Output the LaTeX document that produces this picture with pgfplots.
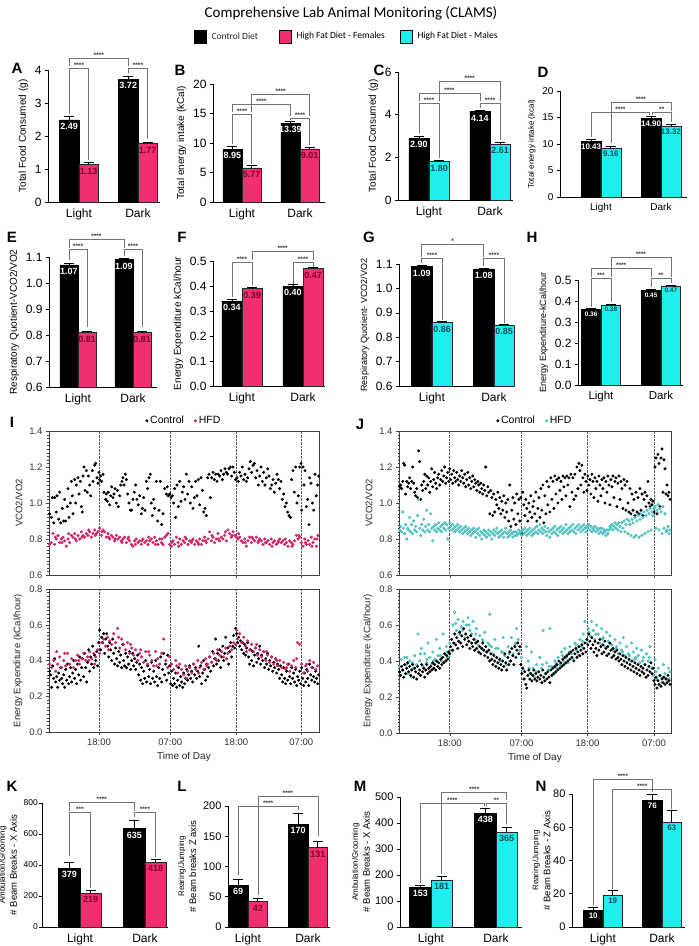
\documentclass[border=0pt]{standalone}
\usepackage{pgfplots}
\pgfplotsset{compat=1.18}
\usepackage{fontspec}
\setmainfont{Liberation Sans}
\newfontfamily\cali{Carlito}
\definecolor{hpink}{RGB}{240,48,110}
\definecolor{hcyan}{RGB}{30,238,238}
\definecolor{pinktxt}{RGB}{125,0,45}
\definecolor{cyantxt}{RGB}{0,80,85}
\definecolor{spink}{RGB}{210,35,105}
\definecolor{scyan}{RGB}{80,210,210}
\definecolor{brk}{RGB}{115,115,115}
\newcommand{\brk}[6]{%
  \draw[brk, line width=0.6pt] (axis cs:#1,#2) -- (axis cs:#1,#5) -- node[anchor=south, inner sep=0.6pt, font=\bfseries\fontsize{6.5}{6.5}\selectfont, text=black!80] {#6} (axis cs:#3,#5) -- (axis cs:#3,#4);}
\pgfplotsset{
  vlab/.style={nodes near coords={\pgfmathprintnumber[fixed,fixed zerofill,precision=#1]{\pgfplotspointmeta}}},
  barax/.style={scale only axis, anchor=south west, clip mode=individual,
    axis x line*=bottom, axis y line*=left,
    axis line style={line width=0.8pt, black},
    xtick={0,1}, xticklabels={Light,Dark}, x tick style={draw=none},
    ytick style={black, line width=0.6pt}, tick align=outside, major tick length=3pt,
    ymin=0, bar width=0.33,
    /pgf/number format/assume math mode=true,
    xticklabel style={font=\fontsize{12}{12}\selectfont},
    yticklabel style={font=\fontsize{12}{12}\selectfont},
    ylabel style={font=\fontsize{10}{10}\selectfont},
    every node near coord/.append style={font=\bfseries\fontsize{9}{9}\selectfont, inner sep=1pt, yshift=-11pt},
  },
  ylab2/.style={every axis y label/.style={at={(axis description cs:#1,0.5)}, rotate=90, anchor=center, align=center}},
  ctrlbar/.style={ybar, bar shift=0pt, fill=black, draw=black, line width=0.6pt,
    every node near coord/.append style={text=white},
    error bars/.cd, y dir=plus, y explicit, error bar style={line width=0.8pt, black},
    error mark options={rotate=90, mark size=5pt, line width=0.8pt, black}},
  pinkbar/.style={ybar, bar shift=0pt, fill=hpink, draw=black!85, line width=0.6pt,
    every node near coord/.append style={text=pinktxt},
    error bars/.cd, y dir=plus, y explicit, error bar style={line width=0.8pt, black},
    error mark options={rotate=90, mark size=5pt, line width=0.8pt, black}},
  cyanbar/.style={ybar, bar shift=0pt, fill=hcyan, draw=black!85, line width=0.6pt,
    every node near coord/.append style={text=cyantxt},
    error bars/.cd, y dir=plus, y explicit, error bar style={line width=0.8pt, black},
    error mark options={rotate=90, mark size=5pt, line width=0.8pt, black}},
  scat/.style={scale only axis, anchor=south west,
    axis line style={black!75, line width=0.7pt},
    /pgf/number format/assume math mode=true,
    tick label style={font=\fontsize{9.5}{10}\selectfont, text=black!80},
    yticklabel style={/pgf/number format/fixed, /pgf/number format/fixed zerofill, /pgf/number format/precision=1},
    ylabel style={font=\fontsize{9.5}{10}\selectfont, text=black!85},
    xlabel style={font=\fontsize{10}{10}\selectfont, text=black!85},
    ytick pos=left, xtick pos=bottom, tick align=outside, major tick length=3pt, minor tick length=1.5pt,
    minor y tick num=9, tick style={black!75},
    xmajorgrids, grid style={densely dotted, black!65, line width=0.5pt},
  },
  ctrlpt/.style={only marks, mark=*, mark size=1.3pt, color=black},
  pinkpt/.style={only marks, mark=*, mark size=1.35pt, color=spink},
  cyanpt/.style={only marks, mark=*, mark size=1.45pt, color=scyan, mark options={draw=scyan!80!black, line width=0.2pt}},
  scatleg/.style={legend style={at={(0.5,1.01)}, anchor=south, draw=none, fill=none, legend columns=2, font=\fontsize{10.5}{10.5}\selectfont, /tikz/every even column/.append style={column sep=8pt}}},
}
\begin{document}
\begin{tikzpicture}
\path[use as bounding box] (0pt,0pt) rectangle (699pt,-946pt);
% title and legend
\node[font=\cali\fontsize{15}{15}\selectfont] at (351pt,-13pt) {Comprehensive Lab Animal Monitoring (CLAMS)};
\draw[fill=black, draw=black, line width=0.6pt] (194pt,-30pt) rectangle (206pt,-43pt);
\node[anchor=west, font=\cali\fontsize{9.5}{10}\selectfont, text=black!85] at (208pt,-36.5pt) {Control Diet};
\draw[fill=hpink, draw=black, line width=0.6pt] (279pt,-30pt) rectangle (291pt,-43pt);
\node[anchor=west, font=\cali\fontsize{9.5}{10}\selectfont] at (293pt,-36.5pt) {High Fat Diet - Females};
\draw[fill=hcyan, draw=black, line width=0.6pt] (400pt,-30pt) rectangle (412pt,-43pt);
\node[anchor=west, font=\cali\fontsize{9.5}{10}\selectfont] at (414pt,-36.5pt) {High Fat Diet - Males};

% ---------------- A
\begin{axis}[barax, at={(48pt,-202pt)}, width=112pt, height=132pt, xmin=-0.525, xmax=1.373, ymax=4, ytick={0,1,2,3,4}, ylabel={Total Food Consumed (g)}, vlab=2]
\addplot[ctrlbar] coordinates {(-0.165,2.49) +- (0,0.1) (0.835,3.72) +- (0,0.08)};
\addplot[pinkbar] coordinates {(0.165,1.13) +- (0,0.06) (1.165,1.77) +- (0,0.05)};
\brk{-0.165}{2.68}{0.165}{1.27}{4.05}{****}
\brk{0.835}{3.9}{1.165}{1.92}{4.05}{****}
\brk{-0.165}{4.12}{0.835}{4.12}{4.36}{****}
\end{axis}
% ---------------- B
\begin{axis}[barax, at={(213pt,-202pt)}, width=112pt, height=118pt, xmin=-0.5, xmax=1.431, ymax=20, ytick={0,5,10,15,20}, ylabel={Total energy intake (kCal)}, vlab=2]
\addplot[ctrlbar] coordinates {(-0.165,8.95) +- (0,0.4) (0.835,13.39) +- (0,0.35)};
\addplot[pinkbar] coordinates {(0.165,5.77) +- (0,0.35) (1.165,9.01) +- (0,0.3)};
\brk{-0.165}{9.9}{0.165}{6.5}{14.9}{****}
\brk{0.835}{13.9}{1.165}{9.6}{14.2}{****}
\brk{-0.165}{15.2}{0.835}{14.6}{16.5}{****}
\brk{0.165}{15.2}{1.165}{14.6}{18.2}{****}
\end{axis}
% ---------------- C
\begin{axis}[barax, at={(398pt,-200pt)}, width=115pt, height=128pt, xmin=-0.508, xmax=1.377, ymax=6, ytick={0,2,4,6}, ylabel={Total Food Consumed (g)}, vlab=2]
\addplot[ctrlbar] coordinates {(-0.165,2.90) +- (0,0.08) (0.835,4.14) +- (0,0.08)};
\addplot[cyanbar] coordinates {(0.165,1.80) +- (0,0.07) (1.165,2.61) +- (0,0.07)};
\brk{-0.165}{3.12}{0.165}{1.95}{4.55}{****}
\brk{0.835}{4.3}{1.165}{2.8}{4.55}{****}
\brk{-0.165}{4.62}{0.835}{4.62}{5.02}{****}
\brk{0.165}{4.62}{1.165}{4.62}{5.56}{****}
\end{axis}
% ---------------- D
\begin{axis}[barax, at={(560pt,-197pt)}, width=127pt, height=106pt, xmin=-0.683, xmax=1.433, ymax=20, ytick={0,5,10,15,20}, ylabel={Total energy intake (kcal)}, vlab=2,
  xticklabel style={font=\fontsize{10}{10}\selectfont}, yticklabel style={font=\fontsize{10}{10}\selectfont}, ylabel style={font=\fontsize{8}{8}\selectfont},
  every node near coord/.append style={font=\bfseries\fontsize{8}{8}\selectfont, yshift=1.5pt}]
\addplot[ctrlbar] coordinates {(-0.165,10.43) +- (0,0.4) (0.835,14.90) +- (0,0.35)};
\addplot[cyanbar] coordinates {(0.165,9.16) +- (0,0.4) (1.165,13.32) +- (0,0.35)};
\brk{-0.165}{11.4}{0.81}{15.4}{16.0}{****}
\brk{0.86}{15.4}{1.165}{14.2}{16.0}{**}
\brk{0.165}{10.1}{1.165}{16.3}{17.85}{****}
\end{axis}
% ---------------- E
\begin{axis}[barax, at={(49pt,-387pt)}, width=108pt, height=130pt, xmin=-0.527, xmax=1.436, ymin=0.6, ymax=1.1, ytick={0.6,0.7,0.8,0.9,1.0,1.1}, ylabel={Respiratory Quotient-VCO2/VO2}, vlab=2,
  yticklabel style={/pgf/number format/fixed, /pgf/number format/fixed zerofill, /pgf/number format/precision=1}]
\addplot[ctrlbar] coordinates {(-0.165,1.07) +- (0,0.005) (0.835,1.09) +- (0,0.005)};
\addplot[pinkbar] coordinates {(0.165,0.81) +- (0,0.003) (1.165,0.81) +- (0,0.003)};
\brk{-0.165}{1.087}{0.165}{0.832}{1.128}{****}
\brk{0.835}{1.103}{1.165}{0.83}{1.128}{****}
\brk{-0.165}{1.135}{0.835}{1.135}{1.169}{****}
\end{axis}
% ---------------- F
\begin{axis}[barax, at={(213pt,-386pt)}, width=112pt, height=125pt, xmin=-0.475, xmax=1.36, ymax=0.5, ytick={0,0.1,0.2,0.3,0.4,0.5}, ylabel={Energy Expenditure kCal/hour}, vlab=2,
  yticklabel style={/pgf/number format/fixed, /pgf/number format/fixed zerofill, /pgf/number format/precision=1}]
\addplot[ctrlbar] coordinates {(-0.165,0.34) +- (0,0.005) (0.835,0.40) +- (0,0.005)};
\addplot[pinkbar] coordinates {(0.165,0.39) +- (0,0.005) (1.165,0.47) +- (0,0.005)};
\brk{-0.165}{0.356}{0.165}{0.403}{0.496}{****}
\brk{0.835}{0.41}{1.165}{0.478}{0.496}{****}
\brk{0.165}{0.503}{1.165}{0.503}{0.54}{****}
\end{axis}
% ---------------- G
\begin{axis}[barax, at={(399pt,-386pt)}, width=116pt, height=122pt, xmin=-0.532, xmax=1.339, ymin=0.6, ymax=1.1, ytick={0.6,0.7,0.8,0.9,1.0,1.1}, ylabel={Respiratory Quotient- VCO2/VO2}, vlab=2,
  yticklabel style={/pgf/number format/fixed, /pgf/number format/fixed zerofill, /pgf/number format/precision=1}, ylabel style={font=\fontsize{9}{9}\selectfont}]
\addplot[ctrlbar] coordinates {(-0.165,1.09) +- (0,0.005) (0.835,1.08) +- (0,0.004)};
\addplot[cyanbar] coordinates {(0.165,0.86) +- (0,0.004) (1.165,0.85) +- (0,0.003)};
\brk{-0.165}{1.104}{0.165}{0.87}{1.122}{****}
\brk{0.835}{1.092}{1.165}{0.858}{1.122}{****}
\brk{-0.165}{1.13}{0.835}{1.13}{1.18}{*}
\end{axis}
% ---------------- H
\begin{axis}[barax, at={(578pt,-385pt)}, width=105pt, height=105pt, xmin=-0.383, xmax=1.367, ymax=0.5, ytick={0,0.1,0.2,0.3,0.4,0.5}, ylabel={Energy Expenditure-kCal/hour}, vlab=2,
  yticklabel style={/pgf/number format/fixed, /pgf/number format/fixed zerofill, /pgf/number format/precision=1},
  xticklabel style={font=\fontsize{11.5}{11.5}\selectfont}, ylabel style={font=\fontsize{9}{9}\selectfont},
  every node near coord/.append style={font=\bfseries\fontsize{6.5}{6.5}\selectfont, yshift=3pt}]
\addplot[ctrlbar] coordinates {(-0.165,0.36) +- (0,0.005) (0.835,0.45) +- (0,0.005)};
\addplot[cyanbar] coordinates {(0.165,0.38) +- (0,0.005) (1.165,0.47) +- (0,0.005)};
\brk{-0.165}{0.373}{0.165}{0.397}{0.508}{***}
\brk{0.835}{0.465}{1.165}{0.485}{0.508}{**}
\brk{-0.165}{0.515}{0.835}{0.515}{0.556}{****}
\brk{0.165}{0.515}{1.165}{0.515}{0.608}{****}
\end{axis}

% ---------------- I upper
\begin{axis}[scat, scatleg, at={(49pt,-575pt)}, width=270pt, height=144pt, xmin=148, xmax=958, ymin=0.6, ymax=1.4,
  ytick={0.6,0.8,1.0,1.2,1.4}, xtick={298,512,710,905}, xticklabels={}, ylabel={VCO2/VO2}]
\addplot[ctrlpt] coordinates {(150,0.94)(155,0.92)(158,1.03)(162,0.89)(165,1.03)(170,0.95)(172,1.04)(177,0.91)(180,1.06)(183,0.89)(188,0.97)(192,0.9)(195,1.02)(198,0.9)(203,0.98)(205,1.08)(208,0.92)(212,1.0)(215,1.12)(218,1.04)(220,0.94)(225,1.13)(228,1.0)(230,1.1)(235,1.14)(238,1.05)(242,1.12)(245,0.98)(248,0.95)(250,1.15)(253,1.2)(256,1.07)(260,1.18)(263,1.06)(266,1.15)(270,1.1)(273,1.04)(278,1.18)(280,1.12)(285,1.21)(288,1.22)(292,1.14)(295,1.11)(298,1.17)
(300,1.13)(303,1.15)(306,1.12)(310,1.16)(313,1.06)(318,1.02)(320,1.05)(323,1.01)(326,1.06)(330,0.99)(333,1.04)(336,1.09)(340,1.03)(343,1.05)(346,1.08)(350,1.0)(353,1.07)(356,0.98)(360,1.04)(363,1.1)(367,1.12)(370,1.14)(373,1.1)(377,1.16)(380,1.13)(384,1.05)(388,1.0)(392,0.96)(396,0.96)(400,1.02)(404,1.06)(408,1.1)(412,1.02)(416,0.99)(420,1.04)(425,0.94)(428,0.97)(432,1.03)(436,0.96)(440,1.12)(444,1.08)(448,1.14)(452,1.16)(455,1.0)(458,0.93)(462,1.02)(465,0.97)(470,1.12)(474,0.9)(478,0.96)(482,1.12)(486,0.88)(490,0.94)(495,1.08)(500,1.05)(503,1.09)(506,1.04)(510,1.05)
(514,1.03)(518,1.04)(522,1.0)(525,1.08)(528,0.92)(532,1.1)(536,0.98)(540,1.12)(544,1.01)(548,1.06)(552,1.09)(556,1.02)(560,1.16)(564,1.05)(568,1.12)(572,1.0)(576,1.09)(580,0.97)(584,1.03)(588,1.12)(592,1.04)(596,1.13)(600,0.99)(604,1.14)(608,1.07)(612,0.95)(616,0.97)(620,0.93)(624,1.14)(628,1.16)(632,1.03)(636,1.14)(640,1.17)(644,1.13)(648,1.16)(652,1.12)(656,1.16)(660,1.15)(664,1.18)(668,1.13)(672,1.16)(676,1.19)(680,1.17)(684,1.16)(688,1.19)(692,1.2)(696,1.15)(700,1.2)(704,1.17)(708,1.13)
(712,1.14)(716,1.12)(720,1.17)(724,1.15)(728,1.2)(732,1.13)(736,1.16)(740,1.12)(744,1.14)(748,1.19)(752,1.23)(756,1.17)(760,1.21)(764,1.22)(768,1.14)(772,1.18)(776,1.1)(780,1.15)(784,1.2)(788,1.12)(792,1.17)(796,1.1)(800,1.14)(804,1.19)(808,1.15)(812,1.08)(816,1.1)(820,1.13)(824,1.06)(828,1.11)(832,1.16)(836,1.13)(840,1.08)(844,1.12)(848,1.02)(852,1.05)(856,0.98)(860,1.0)(864,0.95)(868,0.93)(872,0.92)(876,1.13)(880,1.18)(884,1.06)(888,1.2)(892,1.0)(896,1.04)(900,1.2)(904,1.22)
(906,0.96)(910,1.2)(913,1.1)(916,1.18)(920,0.98)(924,1.02)(928,0.88)(930,1.14)(934,1.11)(938,1.0)(942,0.96)(946,1.16)(950,1.04)(954,1.1)(957,1.15)};
\addplot[pinkpt] coordinates {(150,.77)(155,.78)(160,.83)(165,.77)(170,.80)(175,.82)(180,.78)(185,.80)(190,.81)(195,.79)(200,.76)(205,.80)(210,.78)(215,.82)(220,.81)(225,.83)(230,.79)(235,.82)(240,.80)(245,.84)(250,.82)(255,.81)(260,.83)(265,.82)(270,.84)(275,.81)(280,.83)(285,.85)(290,.83)(295,.84)(300,.86)(305,.82)(310,.85)(315,.84)(320,.81)(325,.83)(330,.80)(335,.82)(340,.81)(345,.79)(350,.82)(355,.80)(360,.81)(365,.79)(370,.80)(375,.81)(380,.78)(385,.80)(390,.79)(395,.77)(400,.76)(405,.79)(410,.80)(415,.78)(420,.79)(425,.77)(430,.80)(435,.78)(440,.79)(445,.77)(450,.79)(455,.80)(460,.78)(465,.81)(470,.79)(475,.77)(480,.80)(485,.78)(490,.77)(495,.81)(500,.82)(505,.83)(510,.77)
(515,.76)(520,.79)(525,.77)(530,.81)(535,.78)(540,.80)(545,.77)(550,.79)(555,.78)(560,.80)(565,.77)(570,.79)(575,.78)(580,.80)(585,.77)(590,.79)(595,.78)(600,.80)(605,.77)(610,.79)(615,.81)(620,.78)(625,.80)(630,.84)(635,.79)(640,.81)(645,.78)(650,.80)(655,.83)(660,.79)(665,.81)(670,.80)(675,.82)(680,.79)(685,.85)(690,.83)(695,.81)(700,.84)(705,.82)(710,.81)(715,.80)(720,.81)(725,.79)(730,.78)(735,.80)(740,.76)(745,.79)(750,.81)(755,.78)(760,.80)(765,.79)(770,.81)(775,.78)(780,.80)(785,.79)(790,.77)(795,.80)(800,.78)(805,.79)(810,.77)(815,.80)(820,.78)(825,.79)(830,.77)(835,.78)(840,.80)(845,.78)(850,.79)(855,.77)(860,.78)(865,.76)(870,.79)(875,.78)(880,.77)(885,.79)(890,.82)(895,.80)(900,.81)(905,.78)(910,.76)(915,.80)(920,.77)(925,.79)(930,.77)(935,.81)(940,.78)(945,.80)(950,.76)(955,.82)
(167,.81)(187,.78)(207,.83)(227,.80)(247,.81)(267,.85)(287,.82)(307,.84)(327,.81)(347,.80)(367,.78)(387,.81)(407,.77)(427,.79)(447,.81)(467,.77)(487,.80)(517,.78)(537,.76)(557,.81)(577,.79)(597,.77)(617,.79)(637,.82)(657,.80)(677,.84)(697,.82)(717,.83)(737,.78)(757,.81)(777,.79)(797,.78)(817,.76)(837,.79)(857,.80)(877,.76)(897,.82)(917,.78)(937,.76)(952,.80)};
\legend{Control, HFD}
\end{axis}
% ---------------- I lower
\begin{axis}[scat, at={(49pt,-732pt)}, width=270pt, height=143pt, xmin=148, xmax=958, ymin=0, ymax=0.8,
  ytick={0,0.2,0.4,0.6,0.8}, xtick={298,512,710,905}, xticklabels={18:00,07:00,18:00,07:00},
  ylabel={Energy Expenditure (kCal/hour)}, xlabel={Time of Day}]
\addplot[ctrlpt] coordinates {(150,.34)(153,.32)(156,.25)(159,.37)(162,.30)(165,.41)(168,.28)(171,.31)(174,.25)(177,.33)(180,.29)(183,.36)(186,.30)(189,.27)(192,.32)(195,.25)(198,.35)(201,.29)(204,.38)(207,.27)(210,.31)(213,.36)(216,.28)(219,.33)(222,.40)(225,.30)(228,.35)(231,.27)(234,.38)(237,.32)(240,.42)(243,.29)(246,.36)(249,.41)(252,.31)(255,.44)(258,.36)(261,.28)(264,.39)(267,.46)(270,.34)(273,.42)(276,.38)(279,.48)(282,.36)(285,.43)(288,.40)(291,.45)(294,.37)(297,.50)
(300,.57)(303,.46)(306,.53)(309,.50)(312,.55)(315,.44)(318,.52)(321,.55)(324,.48)(327,.42)(330,.50)(333,.46)(336,.40)(339,.52)(342,.44)(345,.38)(348,.47)(351,.41)(354,.37)(357,.45)(360,.39)(363,.43)(366,.36)(369,.49)(372,.40)(375,.37)(378,.44)(381,.36)(384,.42)(387,.38)(390,.45)(393,.35)(396,.40)(399,.44)(402,.37)(405,.41)(408,.35)(411,.39)(414,.43)(417,.32)(420,.38)(423,.29)(426,.36)(429,.27)(432,.34)(435,.30)(438,.40)(441,.28)(444,.37)(447,.31)(450,.35)(453,.27)(456,.39)(459,.30)(462,.34)(465,.28)(468,.40)(471,.31)(474,.26)(477,.36)(480,.30)(483,.42)(486,.28)(489,.35)(492,.44)(495,.32)(498,.38)(501,.29)(504,.43)(507,.33)(510,.37)
(513,.27)(516,.34)(519,.26)(522,.30)(525,.27)(528,.33)(531,.25)(534,.29)(537,.36)(540,.26)(543,.31)(546,.28)(549,.25)(552,.33)(555,.27)(558,.30)(561,.35)(564,.29)(567,.32)(570,.37)(573,.30)(576,.34)(579,.28)(582,.38)(585,.32)(588,.36)(591,.30)(594,.34)(597,.48)(600,.31)(603,.37)(606,.27)(609,.33)(612,.40)(615,.35)(618,.29)(621,.38)(624,.31)(627,.36)(630,.42)(633,.34)(636,.39)(639,.45)(642,.37)(645,.41)(648,.52)(651,.38)(654,.44)(657,.40)(660,.46)(663,.36)(666,.42)(669,.48)(672,.40)(675,.44)(678,.53)(681,.41)(684,.47)(687,.38)(690,.45)(693,.50)(696,.42)(699,.48)(702,.54)(705,.47)(708,.58)
(711,.55)(714,.50)(717,.53)(720,.48)(723,.51)(726,.46)(729,.50)(732,.44)(735,.49)(738,.43)(741,.47)(744,.50)(747,.42)(750,.38)(753,.46)(756,.40)(759,.45)(762,.37)(765,.43)(768,.47)(771,.39)(774,.44)(777,.41)(780,.48)(783,.38)(786,.43)(789,.40)(792,.45)(795,.36)(798,.41)(801,.38)(804,.44)(807,.35)(810,.40)(813,.37)(816,.42)(819,.34)(822,.39)(825,.36)(828,.41)(831,.33)(834,.38)(837,.35)(840,.30)(843,.37)(846,.32)(849,.28)(852,.36)(855,.30)(858,.27)(861,.34)(864,.29)(867,.38)(870,.31)(873,.27)(876,.36)(879,.30)(882,.33)(885,.28)(888,.35)(891,.26)(894,.31)(897,.29)(900,.34)(903,.27)
(906,.36)(909,.30)(912,.26)(915,.33)(918,.28)(921,.35)(924,.30)(927,.26)(930,.38)(933,.32)(936,.29)(939,.36)(942,.31)(945,.28)(948,.34)(951,.30)(954,.27)(957,.32)};
\addplot[pinkpt] coordinates {(150,.38)(156,.36)(162,.40)(168,.34)(174,.38)(180,.42)(186,.36)(192,.40)(198,.37)(204,.44)(210,.38)(216,.41)(222,.36)(228,.40)(234,.43)(240,.38)(246,.41)(252,.44)(258,.40)(264,.42)(270,.45)(276,.41)(282,.44)(288,.42)(294,.46)(300,.44)(306,.50)(312,.52)(318,.48)(324,.53)(330,.51)(336,.49)(342,.55)(348,.50)(354,.58)(360,.47)(366,.52)(372,.49)(378,.46)(384,.50)(390,.44)(396,.47)(402,.43)(408,.46)(414,.40)(420,.44)(426,.42)(432,.39)(438,.45)(444,.38)(450,.43)(456,.40)(462,.37)(468,.45)(474,.41)(480,.38)(486,.44)(492,.52)(498,.40)(504,.36)(510,.42)
(516,.38)(522,.35)(528,.40)(534,.33)(540,.38)(546,.35)(552,.32)(558,.37)(564,.34)(570,.36)(576,.33)(582,.38)(588,.35)(594,.40)(600,.36)(606,.39)(612,.35)(618,.41)(624,.38)(630,.42)(636,.39)(642,.44)(648,.41)(654,.46)(660,.43)(666,.45)(672,.42)(678,.47)(684,.44)(690,.48)(696,.46)(702,.50)(708,.49)(714,.52)(720,.55)(726,.50)(732,.53)(738,.48)(744,.51)(750,.46)(756,.49)(762,.45)(768,.47)(774,.43)(780,.46)(786,.42)(792,.45)(798,.40)(804,.43)(810,.39)(816,.42)(822,.38)(828,.41)(834,.37)(840,.40)(846,.36)(852,.39)(858,.35)(864,.38)(870,.34)(876,.37)(882,.40)(888,.36)(894,.50)(900,.49)(906,.38)(912,.33)(918,.37)(924,.34)(930,.40)(936,.36)(942,.39)(948,.35)(954,.37)
(171,.45)(195,.44)(237,.40)(267,.40)(285,.38)(327,.46)(357,.53)(393,.49)(423,.46)(447,.45)(471,.37)(531,.37)(561,.30)(597,.33)(621,.37)(651,.40)(681,.41)(711,.57)(741,.45)(771,.49)(801,.45)(831,.40)(861,.36)(891,.41)(921,.38)};
\end{axis}

% ---------------- J upper
\begin{axis}[scat, scatleg, at={(399pt,-575pt)}, width=272pt, height=144pt, xmin=148, xmax=963, ymin=0.6, ymax=1.4,
  ytick={0.6,0.8,1.0,1.2,1.4}, xtick={300,515,713,912}, xticklabels={}, ylabel={VCO2/VO2}]
\addplot[ctrlpt] coordinates {(150,1.09)(153,1.10)(156,1.08)(159,1.12)(162,1.22)(165,1.21)(168,1.05)(171,1.12)(174,1.09)(177,1.11)(180,1.14)(183,1.08)(186,1.12)(189,1.20)(192,1.11)(195,1.06)(198,1.04)(201,1.08)(204,1.03)(207,1.29)(210,1.23)(213,1.02)(216,1.10)(219,1.07)(222,1.12)(225,1.16)(228,1.08)(231,1.15)(234,1.10)(237,1.14)(240,1.06)(243,1.12)(246,1.19)(249,1.09)(252,1.13)(255,1.17)(258,1.11)(261,1.08)(264,1.14)(267,1.16)(270,1.10)(273,1.13)(276,1.18)(279,1.12)(282,1.15)(285,1.20)(288,1.11)(291,1.14)(294,1.17)(297,1.12)
(300,1.19)(303,1.13)(306,1.16)(309,1.11)(312,1.18)(315,1.14)(318,1.12)(321,1.17)(324,1.13)(327,1.10)(330,1.15)(333,1.12)(336,1.18)(339,1.14)(342,1.11)(345,1.16)(348,1.09)(351,1.13)(354,1.17)(357,1.10)(360,1.14)(363,1.08)(366,1.12)(369,1.15)(372,1.09)(375,1.13)(378,1.11)(381,1.07)(384,1.12)(387,1.10)(390,1.06)(393,1.11)(396,1.08)(399,1.05)(402,1.10)(405,1.07)(408,1.20)(411,1.04)(414,1.09)(417,1.06)(420,0.94)(423,1.07)(426,1.03)(429,0.93)(432,1.05)(435,0.95)(438,1.02)(441,0.99)(444,1.06)(447,0.97)(450,1.03)(453,0.94)(456,1.01)(459,0.96)(462,1.04)(465,0.92)(468,1.00)(471,0.95)(474,1.02)(477,0.90)(480,1.10)(483,0.87)(486,0.96)(489,1.03)(492,0.91)(495,1.00)(498,0.88)(501,1.05)(504,0.94)(507,1.02)(510,0.90)
(513,1.03)(516,0.83)(519,1.06)(522,0.99)(525,0.93)(528,1.02)(531,0.97)(534,0.90)(537,1.00)(540,0.95)(543,1.04)(546,0.92)(549,0.98)(552,1.01)(555,0.94)(558,1.06)(561,0.90)(564,0.97)(567,1.03)(570,0.92)(573,1.08)(576,0.96)(579,1.10)(582,0.89)(585,1.04)(588,0.94)(591,1.12)(594,0.99)(597,1.09)(600,0.95)(603,1.14)(606,1.02)(609,1.12)(612,0.97)(615,1.15)(618,1.05)(621,1.13)(624,1.00)(627,1.14)(630,1.07)(633,1.12)(636,1.02)(639,1.15)(642,1.09)(645,1.14)(648,1.04)(651,1.15)(654,1.10)(657,1.14)(660,0.98)(663,1.16)(666,1.06)(669,1.14)(672,1.02)(675,1.16)(678,1.04)(681,1.20)(684,1.08)(687,1.22)(690,1.18)(693,1.10)(696,1.21)(699,1.14)(702,1.06)(705,1.16)(708,1.12)(711,1.07)
(714,1.15)(717,1.10)(720,1.13)(723,1.05)(726,1.16)(729,1.12)(732,1.03)(735,1.14)(738,1.08)(741,1.12)(744,1.01)(747,1.15)(750,1.10)(753,1.04)(756,1.13)(759,1.08)(762,1.14)(765,1.00)(768,1.12)(771,1.06)(774,1.15)(777,1.10)(780,0.99)(783,1.13)(786,1.09)(789,1.15)(792,1.03)(795,1.12)(798,1.14)(801,0.98)(804,1.11)(807,1.15)(810,1.02)(813,1.12)(816,1.08)(819,0.97)(822,1.13)(825,1.10)(828,0.96)(831,1.12)(834,1.00)(837,0.95)(840,1.08)(843,0.94)(846,1.05)(849,0.96)(852,1.02)(855,0.93)(858,1.06)(861,0.95)(864,1.03)(867,0.94)(870,1.08)(873,0.96)(876,1.05)(879,0.93)(882,1.02)(885,1.06)(888,0.98)(891,1.04)(894,1.12)(897,1.00)(900,0.98)(903,1.02)(906,0.99)(909,1.01)
(912,0.95)(915,1.20)(918,1.25)(921,0.94)(924,1.27)(927,1.22)(930,0.98)(933,1.25)(936,1.30)(939,1.06)(942,1.24)(945,1.19)(948,1.05)(951,1.10)(954,1.04)(957,1.06)(960,1.02)};
\addplot[cyanpt] coordinates {(150,.85)(153,.87)(156,.84)(159,.95)(162,.86)(165,.83)(168,.88)(171,.80)(174,.86)(177,.85)(180,.92)(183,.84)(186,.88)(189,.83)(192,.90)(195,.85)(198,.87)(201,.84)(204,.93)(207,1.02)(210,.86)(213,.82)(216,.88)(219,.85)(222,.91)(225,.84)(228,.87)(231,.96)(234,.85)(237,.88)(240,.84)(243,.94)(246,.86)(249,.79)(252,.87)(255,.85)(258,.88)(261,.84)(264,.86)(267,.89)(270,.85)(273,.87)(276,.84)(279,.88)(282,.86)(285,.89)(288,.85)(291,.88)(294,.80)(297,.86)
(300,.89)(303,.87)(306,.85)(309,.88)(312,.86)(315,.84)(318,.87)(321,.85)(324,.88)(327,.86)(330,.84)(333,.87)(336,.85)(339,.83)(342,.86)(345,.84)(348,.87)(351,.85)(354,.83)(357,.86)(360,.84)(363,.82)(366,.85)(369,.83)(372,.86)(375,.84)(378,.81)(381,.85)(384,.83)(387,.86)(390,.82)(393,.84)(396,.80)(399,.83)(402,.85)(405,.82)(408,.84)(411,.81)(414,.83)(417,.85)(420,.82)(423,.84)(426,.80)(429,.83)(432,.85)(435,.82)(438,.84)(441,.86)(444,.83)(447,.81)(450,.84)(453,.82)(456,.85)(459,.83)(462,.81)(465,.84)(468,.86)(471,.83)(474,.81)(477,.84)(480,.82)(483,.85)(486,.83)(489,.81)(492,.84)(495,.82)(498,.84)(501,.82)(504,.83)(507,.85)(510,.83)
(513,.84)(516,.82)(519,.85)(522,.83)(525,.86)(528,.84)(531,.82)(534,.85)(537,.83)(540,.86)(543,.84)(546,.82)(549,.85)(552,.83)(555,.86)(558,.84)(561,.87)(564,.83)(567,.85)(570,.88)(573,.84)(576,.86)(579,.83)(582,.85)(585,.87)(588,.84)(591,.82)(594,.86)(597,.84)(600,.81)(603,.85)(606,.83)(609,.86)(612,.84)(615,.87)(618,.83)(621,.85)(624,.82)(627,.86)(630,.84)(633,.87)(636,.85)(639,.83)(642,.86)(645,.84)(648,.88)(651,.85)(654,.83)(657,.86)(660,.84)(663,.87)(666,.85)(669,.88)(672,.84)(675,.86)(678,.83)(681,.87)(684,.85)(687,.88)(690,.86)(693,.84)(696,.87)(699,.85)(702,.88)(705,.86)(708,.84)(711,.87)
(714,.86)(717,.88)(720,.85)(723,.87)(726,.84)(729,.86)(732,.85)(735,.87)(738,.84)(741,.86)(744,.85)(747,.83)(750,.86)(753,.84)(756,.86)(759,.83)(762,.85)(765,.84)(768,.82)(771,.85)(774,.83)(777,.85)(780,.87)(783,.86)(786,.88)(789,.85)(792,.87)(795,.89)(798,.86)(801,.88)(804,.85)(807,.89)(810,.87)(813,.84)(816,.89)(819,.86)(822,.90)(825,.84)(828,.88)(831,.91)(834,.83)(837,.90)(840,.88)(843,.82)(846,.91)(849,.89)(852,.81)(855,.92)(858,.82)(861,.90)(864,.93)(867,.81)(870,.91)(873,.94)(876,.82)(879,.92)(882,.95)(885,.83)(888,.93)(891,.96)(894,.84)(897,.94)(900,.97)(903,.85)(906,.95)(909,.93)
(912,.97)(915,.98)(918,.86)(921,.96)(924,.99)(927,.85)(930,.97)(933,.95)(936,.83)(939,.98)(942,.86)(945,.94)(948,.84)(951,.85)(954,.87)(957,.83)(960,.85)};
\legend{Control, HFD}
\end{axis}
% ---------------- J lower
\begin{axis}[scat, at={(399pt,-733pt)}, width=272pt, height=144pt, xmin=148, xmax=963, ymin=0, ymax=0.8,
  ytick={0,0.2,0.4,0.6,0.8}, xtick={300,515,713,912}, xticklabels={18:00,07:00,18:00,07:00},
  ylabel={Energy Expenditure (kCal/hour)}, xlabel={Time of Day}]
\addplot[cyanpt] coordinates {(150,.37)(155,.41)(160,.35)(165,.42)(170,.38)(175,.33)(180,.40)(185,.31)(190,.36)(195,.43)(200,.38)(205,.55)(210,.40)(215,.47)(220,.37)(225,.44)(230,.39)(235,.50)(240,.42)(245,.38)(250,.45)(255,.41)(260,.52)(265,.43)(270,.47)(275,.40)(280,.55)(285,.44)(290,.48)(295,.42)
(300,.50)(305,.46)(310,.60)(315,.67)(320,.57)(325,.63)(330,.55)(335,.59)(340,.62)(345,.53)(350,.60)(355,.64)(360,.57)(365,.55)(370,.62)(375,.52)(380,.58)(385,.49)(390,.54)(395,.47)(400,.51)(405,.56)(410,.45)(415,.50)(420,.66)(425,.48)(430,.44)(435,.52)(440,.42)(445,.47)(450,.40)(455,.45)(460,.53)(465,.43)(470,.38)(475,.48)(480,.40)(485,.53)(490,.44)(495,.49)(500,.58)(505,.52)(510,.46)
(515,.42)(520,.35)(525,.30)(530,.48)(535,.40)(540,.33)(545,.45)(550,.36)(555,.31)(560,.38)(565,.34)(570,.42)(575,.36)(580,.57)(585,.33)(590,.39)(595,.35)(600,.58)(605,.37)(610,.33)(615,.40)(620,.36)(625,.42)(630,.38)(635,.45)(640,.40)(645,.47)(650,.42)(655,.39)(660,.48)(665,.44)(670,.41)(675,.50)(680,.46)(685,.43)(690,.52)(695,.48)(700,.55)(705,.62)(710,.50)
(715,.58)(720,.54)(725,.62)(730,.57)(735,.52)(740,.60)(745,.55)(750,.50)(755,.58)(760,.53)(765,.48)(770,.56)(775,.51)(780,.54)(785,.49)(790,.46)(795,.52)(800,.48)(805,.44)(810,.50)(815,.46)(820,.53)(825,.43)(830,.48)(835,.44)(840,.40)(845,.50)(850,.45)(855,.41)(860,.47)(865,.43)(870,.39)(875,.46)(880,.42)(885,.38)(890,.44)(895,.40)(900,.48)(905,.36)(910,.32)
(915,.41)(920,.30)(925,.36)(930,.32)(935,.28)(940,.38)(945,.33)(950,.30)(955,.36)(960,.34)
(172,.42)(188,.39)(212,.44)(232,.41)(252,.40)(272,.43)(292,.45)(318,.61)(338,.57)(358,.60)(378,.55)(398,.52)(418,.49)(438,.47)(458,.45)(478,.44)(498,.50)(538,.36)(558,.34)(578,.38)(598,.37)(618,.39)(638,.43)(658,.45)(678,.49)(698,.51)(718,.56)(738,.55)(758,.52)(778,.50)(798,.47)(818,.45)(838,.43)(858,.42)(878,.40)(898,.42)(918,.34)(938,.31)(958,.30)};
\addplot[ctrlpt] coordinates {(150,.34)(153,.32)(156,.37)(159,.35)(162,.31)(165,.38)(168,.33)(171,.36)(174,.39)(177,.34)(180,.37)(183,.32)(186,.35)(189,.38)(192,.31)(195,.36)(198,.34)(201,.30)(204,.37)(207,.33)(210,.35)(213,.32)(216,.38)(219,.34)(222,.36)(225,.31)(228,.35)(231,.38)(234,.33)(237,.36)(240,.34)(243,.37)(246,.35)(249,.39)(252,.36)(255,.38)(258,.35)(261,.40)(264,.37)(267,.39)(270,.36)(273,.41)(276,.38)(279,.42)(282,.39)(285,.44)(288,.40)(291,.43)(294,.41)(297,.45)
(300,.44)(303,.48)(306,.52)(309,.46)(312,.50)(315,.55)(318,.49)(321,.53)(324,.47)(327,.51)(330,.56)(333,.50)(336,.54)(339,.48)(342,.58)(345,.52)(348,.55)(351,.49)(354,.53)(357,.51)(360,.47)(363,.54)(366,.50)(369,.48)(372,.52)(375,.46)(378,.50)(381,.47)(384,.51)(387,.45)(390,.48)(393,.44)(396,.47)(399,.50)(402,.46)(405,.43)(408,.48)(411,.45)(414,.42)(417,.46)(420,.40)(423,.44)(426,.41)(429,.38)(432,.43)(435,.40)(438,.37)(441,.42)(444,.39)(447,.36)(450,.41)(453,.38)(456,.35)(459,.40)(462,.37)(465,.44)(468,.39)(471,.35)(474,.42)(477,.38)(480,.45)(483,.40)(486,.47)(489,.43)(492,.38)(495,.48)(498,.42)(501,.46)(504,.50)(507,.44)(510,.48)
(513,.38)(516,.33)(519,.36)(522,.30)(525,.34)(528,.27)(531,.25)(534,.32)(537,.35)(540,.30)(543,.33)(546,.29)(549,.32)(552,.35)(555,.30)(558,.33)(561,.29)(564,.31)(567,.34)(570,.30)(573,.32)(576,.28)(579,.35)(582,.31)(585,.29)(588,.33)(591,.30)(594,.34)(597,.31)(600,.28)(603,.35)(606,.32)(609,.36)(612,.33)(615,.37)(618,.34)(621,.38)(624,.35)(627,.40)(630,.36)(633,.39)(636,.37)(639,.41)(642,.38)(645,.42)(648,.39)(651,.43)(654,.40)(657,.44)(660,.41)(663,.45)(666,.42)(669,.46)(672,.40)(675,.44)(678,.47)(681,.42)(684,.45)(687,.48)(690,.43)(693,.46)(696,.49)(699,.44)(702,.47)(705,.50)(708,.45)(711,.52)
(714,.49)(717,.55)(720,.51)(723,.47)(726,.53)(729,.49)(732,.45)(735,.51)(738,.47)(741,.43)(744,.50)(747,.46)(750,.52)(753,.48)(756,.44)(759,.49)(762,.45)(765,.51)(768,.47)(771,.43)(774,.48)(777,.44)(780,.50)(783,.46)(786,.42)(789,.47)(792,.43)(795,.45)(798,.41)(801,.46)(804,.42)(807,.40)(810,.44)(813,.41)(816,.38)(819,.43)(822,.40)(825,.37)(828,.42)(831,.39)(834,.36)(837,.41)(840,.38)(843,.35)(846,.40)(849,.37)(852,.34)(855,.39)(858,.36)(861,.33)(864,.38)(867,.35)(870,.32)(873,.37)(876,.34)(879,.36)(882,.33)(885,.38)(888,.31)(891,.35)(894,.32)(897,.37)(900,.34)(903,.39)(906,.33)(909,.36)
(912,.29)(915,.27)(918,.31)(921,.25)(924,.29)(927,.27)(930,.32)(933,.26)(936,.30)(939,.28)(942,.31)(945,.27)(948,.30)(951,.28)(954,.32)(957,.29)(960,.27)};
\end{axis}

% ---------------- K
\begin{axis}[barax, ylab2=-0.27, at={(42pt,-927pt)}, width=126pt, height=124pt, xmin=-0.585, xmax=1.354, ymax=800, ytick={0,200,400,600,800}, vlab=0,
  ylabel={\fontsize{8}{9}\selectfont Ambulation/Grooming\\\fontsize{9.5}{10}\selectfont \# Beam Breaks - X Axis}, yticklabel style={font=\fontsize{8.5}{8.5}\selectfont, inner sep=1pt}]
\addplot[ctrlbar] coordinates {(-0.165,379) +- (0,35) (0.835,635) +- (0,50)};
\addplot[pinkbar] coordinates {(0.165,219) +- (0,15) (1.165,418) +- (0,20)};
\brk{-0.165}{456}{0.165}{252}{740}{***}
\brk{0.835}{712}{1.165}{452}{740}{****}
\brk{-0.165}{748}{0.835}{748}{804}{****}
\end{axis}
% ---------------- L
\begin{axis}[barax, ylab2=-0.40, at={(228pt,-927pt)}, width=102pt, height=121pt, xmin=-0.333, xmax=1.367, ymax=200, ytick={0,50,100,150,200}, vlab=0,
  ylabel={\fontsize{8}{9.5}\selectfont Rearing/Jumping\\\fontsize{9.5}{10}\selectfont \# Beam breaks Z axis}, yticklabel style={font=\fontsize{11}{11}\selectfont}]
\addplot[ctrlbar] coordinates {(-0.165,69) +- (0,10) (0.835,170) +- (0,17)};
\addplot[pinkbar] coordinates {(0.165,42) +- (0,6) (1.165,131) +- (0,11)};
\brk{-0.165}{86}{0.835}{193}{199}{****}
\brk{0.165}{53}{1.165}{150}{216}{****}
\end{axis}
% ---------------- M
\begin{axis}[barax, ylab2=-0.32, at={(400pt,-927pt)}, width=122pt, height=130pt, xmin=-0.477, xmax=1.4, ymax=500, ytick={0,100,200,300,400,500}, vlab=0,
  ylabel={\fontsize{8}{9.5}\selectfont Ambulation/Grooming\\\fontsize{9.5}{10}\selectfont \# Beam Breaks - X Axis}, yticklabel style={font=\fontsize{11}{11}\selectfont}]
\addplot[ctrlbar] coordinates {(-0.165,153) +- (0,8) (0.835,438) +- (0,18)};
\addplot[cyanbar] coordinates {(0.165,181) +- (0,12) (1.165,365) +- (0,18)};
\brk{-0.165}{170}{0.82}{465}{477}{****}
\brk{0.85}{465}{1.165}{395}{477}{**}
\brk{0.165}{205}{1.165}{490}{519}{****}
\end{axis}
% ---------------- N
\begin{axis}[barax, ylab2=-0.27, at={(572pt,-927pt)}, width=113pt, height=133pt, xmin=-0.525, xmax=1.39, ymax=80, ytick={0,20,40,60,80}, vlab=0,
  ylabel={\fontsize{8}{9.5}\selectfont Rearing/Jumping\\\fontsize{9.5}{10}\selectfont \# Beam Breaks - Z Axis}, yticklabel style={font=\fontsize{11}{11}\selectfont},
  every node near coord/.append style={font=\bfseries\fontsize{8}{8}\selectfont, yshift=1.5pt}]
\addplot[ctrlbar] coordinates {(-0.165,10) +- (0,2) (0.835,76) +- (0,4)};
\addplot[cyanbar] coordinates {(0.165,19) +- (0,3) (1.165,63) +- (0,7)};
\brk{-0.165}{13}{0.835}{81}{89}{****}
\brk{0.165}{23}{1.165}{71}{83}{****}
\end{axis}

% panel letters
\begin{scope}[every node/.style={font=\bfseries\fontsize{15}{15}\selectfont}]
\node at (17pt,-68pt) {A};
\node at (180pt,-70pt) {B};
\node at (379pt,-70pt) {C};
\node at (543pt,-72pt) {D};
\node at (12pt,-237pt) {E};
\node at (182pt,-237pt) {F};
\node at (369pt,-237pt) {G};
\node at (532pt,-237pt) {H};
\node at (12pt,-422pt) {I};
\node at (360pt,-424pt) {J};
\node at (12pt,-786pt) {K};
\node at (182pt,-786pt) {L};
\node at (360pt,-786pt) {M};
\node at (541pt,-786pt) {N};
\end{scope}
\end{tikzpicture}
\end{document}
